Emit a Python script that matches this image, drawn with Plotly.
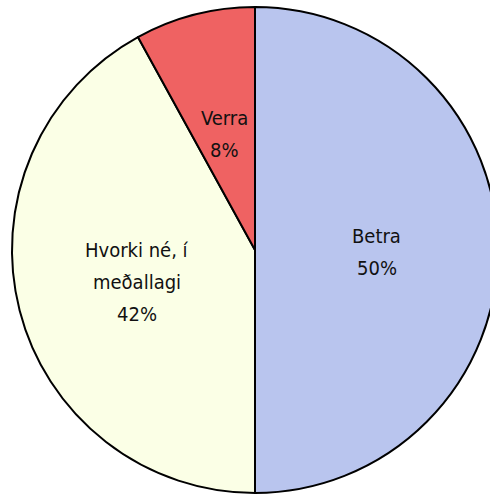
import math
import plotly.graph_objects as go

# slices, clockwise from 12 o'clock
labels = ["Betra", "Hvorki né, í meðallagi", "Verra"]
label_lines = [["Betra"], ["Hvorki né, í", "meðallagi"], ["Verra"]]
values = [50, 42, 8]
colors = ["#B9C5EE", "#FBFFE6", "#EF6262"]

fig = go.Figure(go.Pie(
    labels=labels,
    values=values,
    sort=False,
    direction="clockwise",
    rotation=0,
    marker=dict(colors=colors, line=dict(color="black", width=2)),
    textinfo="none",
    hoverinfo="skip",
    showlegend=False,
))

# labels at half radius on each slice's mid angle, one annotation per line
W, H = 498, 496
ml, mr, mt, mb = 12, 0, 7, 3
R = min(W - ml - mr, H - mt - mb) / 2
total = sum(values)
font = dict(family="DejaVu Sans Condensed, Arial", size=20, color="#111111")
step = 32
start = 0
for lines, v in zip(label_lines, values):
    mid = (start + v / 2) / total * 2 * math.pi
    start += v
    x = 0.5 + 0.5 * R * math.sin(mid) / (W - ml - mr)
    y = 0.5 + 0.5 * R * math.cos(mid) / (H - mt - mb)
    pct = f"{round(100 * v / total)}%"
    rows = lines + [pct]
    n = len(rows)
    for i, t in enumerate(rows):
        fig.add_annotation(x=x, y=y, xref="paper", yref="paper", text=t,
                           showarrow=False, font=font,
                           xanchor="center", yanchor="middle",
                           yshift=((n - 1) / 2 - i) * step - 2)

fig.update_layout(
    width=W, height=H,
    margin=dict(l=ml, r=mr, t=mt, b=mb),
    paper_bgcolor="white",
)

fig.write_html("out.html", config={"displayModeBar": False}, post_script=(
    "document.body.style.margin='0';"
    "document.documentElement.style.overflow='hidden';"
    "document.body.style.overflow='hidden';"))
